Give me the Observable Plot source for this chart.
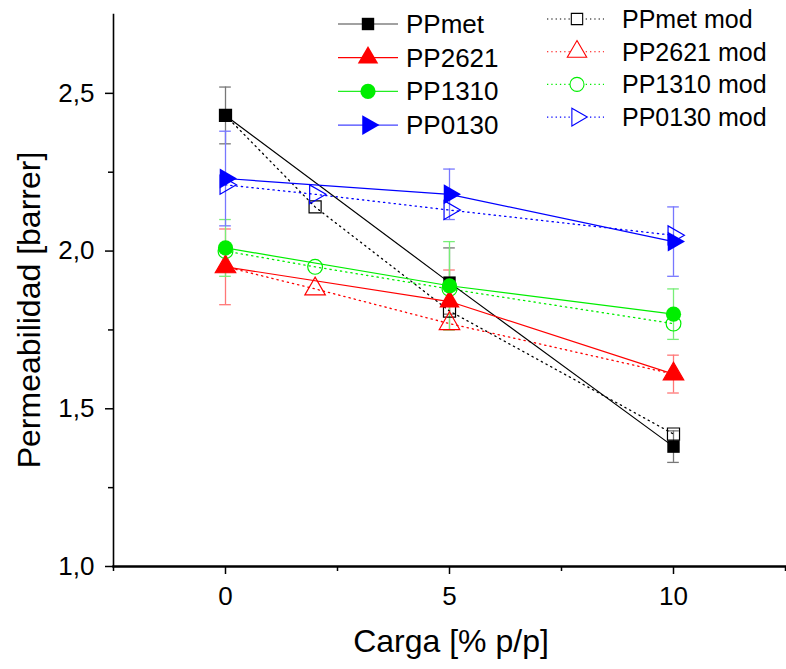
<!DOCTYPE html>
<html>
<head>
<meta charset="utf-8">
<script src="https://cdn.jsdelivr.net/npm/d3@7"></script>
<script src="https://cdn.jsdelivr.net/npm/@observablehq/plot@0.6"></script>
<style>
  html, body { margin: 0; padding: 0; background: #fff; }
  #chart { position: relative; width: 786px; height: 669px; }
</style>
</head>
<body>
<div id="chart"></div>
<script>
// ---- data ----
const seriesNames = ["PPmet", "PP2621", "PP1310", "PP0130"];
const modNames = ["PPmet mod", "PP2621 mod", "PP1310 mod", "PP0130 mod"];
const seriesColors = ["#000000", "#ff0000", "#00ee00", "#0000ff"];
const errColors = ["#777777", "#ff7777", "#77ee77", "#7777ff"];

const loadMain = [0, 5, 10];
const ppmet  = [2.43, 1.90, 1.38];
const ppmetLo = [2.34, 1.80, 1.33];
const ppmetHi = [2.52, 2.01, 1.43];
const pp2621 = [1.95, 1.84, 1.61];
const pp2621Lo = [1.83, 1.75, 1.55];
const pp2621Hi = [2.07, 1.94, 1.67];
const pp1310 = [2.01, 1.89, 1.80];
const pp1310Lo = [1.92, 1.75, 1.72];
const pp1310Hi = [2.10, 2.03, 1.88];
const pp0130 = [2.23, 2.18, 2.03];
const pp0130Lo = [2.08, 2.10, 1.92];
const pp0130Hi = [2.38, 2.26, 2.14];

const loadMod = [0, 2, 5, 10];
const ppmetMod  = [2.43, 2.14, 1.81, 1.42];
const pp2621Mod = [1.95, 1.88, 1.77, 1.61];
const pp1310Mod = [2.00, 1.95, 1.88, 1.77];
const pp0130Mod = [2.21, 2.18, 2.13, 2.05];

const yMajorTicks = [1.0, 1.5, 2.0, 2.5];
const yMinorTicks = [1.25, 1.75, 2.25];
const xMajorTicks = [0, 5, 10];
const xMinorTicks = [-2.5, 2.5, 7.5, 12.5];

const FONT = "'Liberation Sans', Arial, Helvetica, sans-serif";

// ---- symbols ----
const triRight = {
  draw(ctx, size) {
    const s = Math.sqrt(4 * size / Math.sqrt(3));
    const h = Math.sqrt(3) / 2 * s;
    ctx.moveTo(2 * h / 3, 0);
    ctx.lineTo(-h / 3, -s / 2);
    ctx.lineTo(-h / 3, s / 2);
    ctx.closePath();
  }
};
const triUp = {
  draw(ctx, size) {
    const s = Math.sqrt(4 * size / Math.sqrt(3));
    const h = Math.sqrt(3) / 2 * s;
    ctx.moveTo(0, -2 * h / 3);
    ctx.lineTo(s / 2, h / 3);
    ctx.lineTo(-s / 2, h / 3);
    ctx.closePath();
  }
};
const squareSym = {
  draw(ctx, size) {
    const w = Math.sqrt(size);
    ctx.rect(-w / 2, -w / 2, w, w);
  }
};
const circleSym = {
  draw(ctx, size) {
    const r = Math.sqrt(size / Math.PI);
    ctx.moveTo(r, 0);
    ctx.arc(0, 0, r, 0, 2 * Math.PI);
  }
};
const symbols = [squareSym, triUp, circleSym, triRight];
const sizesFilled = [7, 7.6, 7.6, 7.4];
const sizesOpen = [6.8, 7.6, 7.4, 7.0];

// ---- tables ----
const mainVals = [ppmet, pp2621, pp1310, pp0130];
const mainLo = [ppmetLo, pp2621Lo, pp1310Lo, pp0130Lo];
const mainHi = [ppmetHi, pp2621Hi, pp1310Hi, pp0130Hi];
const modVals = [ppmetMod, pp2621Mod, pp1310Mod, pp0130Mod];

const mainData = seriesNames.map((name, i) =>
  loadMain.map((x, j) => ({ s: i, x, y: mainVals[i][j], lo: mainLo[i][j], hi: mainHi[i][j] })));
const modData = modNames.map((name, i) =>
  loadMod.map((x, j) => ({ s: i, x, y: modVals[i][j] })));

const capHalf = 0.13;
const marks = [];

// error bars
mainData.forEach((d, i) => {
  marks.push(Plot.ruleX(d, { x: "x", y1: "lo", y2: "hi", stroke: errColors[i], strokeWidth: 1.3 }));
  marks.push(Plot.ruleY(d, { y: "hi", x1: r => r.x - capHalf, x2: r => r.x + capHalf, stroke: errColors[i], strokeWidth: 1.3 }));
  marks.push(Plot.ruleY(d, { y: "lo", x1: r => r.x - capHalf, x2: r => r.x + capHalf, stroke: errColors[i], strokeWidth: 1.3 }));
});
// modelled dotted lines + open markers
modData.forEach((d, i) => {
  marks.push(Plot.line(d, { x: "x", y: "y", stroke: seriesColors[i], strokeWidth: 1.3, strokeDasharray: "1.3,4" }));
  marks.push(Plot.dot(d, { x: "x", y: "y", symbol: symbols[i], r: sizesOpen[i], stroke: seriesColors[i], fill: "none", strokeWidth: 1.2 }));
});
// main solid lines + filled markers
mainData.forEach((d, i) => {
  marks.push(Plot.line(d, { x: "x", y: "y", stroke: seriesColors[i], strokeWidth: 1.2 }));
  marks.push(Plot.dot(d, { x: "x", y: "y", symbol: symbols[i], r: sizesFilled[i], fill: seriesColors[i], stroke: "none" }));
});

const fmt = d => d.toFixed(1).replace(".", ",");

const plot = Plot.plot({
  width: 786,
  height: 669,
  marginLeft: 113,
  marginRight: 1,
  marginTop: 14,
  marginBottom: 103,
  style: { fontFamily: FONT, fontSize: "26px", background: "#fff", color: "#000" },
  x: { domain: [-2.5, 12.5] },
  y: { domain: [1.0, 2.75] },
  marks: [
    Plot.axisY({ ticks: yMajorTicks, tickFormat: fmt, tickSize: 8, tickPadding: 11, fontSize: 26, label: null, strokeWidth: 1.5 }),
    Plot.axisY({ ticks: yMinorTicks, tickSize: 5, text: null, label: null, strokeWidth: 1.5 }),
    Plot.axisX({ ticks: xMajorTicks, tickSize: 8, tickPadding: 12, fontSize: 26, label: null, strokeWidth: 1.5 }),
    Plot.axisX({ ticks: xMinorTicks, tickSize: 5, text: null, label: null, strokeWidth: 1.5 }),
    Plot.frame({ anchor: "left", strokeWidth: 1.6 }),
    Plot.frame({ anchor: "bottom", strokeWidth: 2.4 }),
    ...marks
  ]
});
document.getElementById("chart").appendChild(plot);

// ---- axis titles & legend (drawn into the same SVG) ----
const svg = d3.select(plot.tagName.toLowerCase() === "svg" ? plot : plot.querySelector("svg"));
svg.selectAll('g[aria-label$="tick label"]')
  .attr("font-size", 26).style("font-size", "26px").attr("font-family", FONT);

svg.append("text")
  .attr("x", 451).attr("y", 652)
  .attr("text-anchor", "middle")
  .attr("font-size", 32)
  .attr("font-family", FONT)
  .text("Carga [% p/p]");
svg.append("text")
  .attr("transform", "translate(40,310) rotate(-90)")
  .attr("text-anchor", "middle")
  .attr("font-size", 32)
  .attr("font-family", FONT)
  .text("Permeabilidad [barrer]");

const leg = svg.append("g").attr("font-family", FONT).attr("text-anchor", "start");
const symPath = (sym, r) => d3.symbol(sym, Math.PI * r * r)();
const legLineColors = ["#444444", "#ff0000", "#22ee22", "#4444ff"];
seriesNames.forEach((name, i) => {
  const y = 24 + i * 33.7;
  const g = leg.append("g");
  g.append("line").attr("x1", 338).attr("x2", 398).attr("y1", y).attr("y2", y)
    .attr("stroke", legLineColors[i]).attr("stroke-width", 1.2);
  g.append("path").attr("d", symPath(symbols[i], sizesFilled[i]))
    .attr("transform", `translate(368,${y})`).attr("fill", seriesColors[i]);
  g.append("text").attr("x", 406).attr("y", y + 9).attr("font-size", 26).attr("text-anchor", "start").text(name);
});
modNames.forEach((name, i) => {
  const y = 19 + i * 32.7;
  const g = leg.append("g");
  g.append("line").attr("x1", 547).attr("x2", 604).attr("y1", y).attr("y2", y)
    .attr("stroke", seriesColors[i]).attr("stroke-width", 1.1).attr("stroke-dasharray", "1.3,3");
  g.append("path").attr("d", symPath(symbols[i], sizesOpen[i] - 0.4))
    .attr("transform", `translate(577,${y})`).attr("fill", "#fff")
    .attr("stroke", seriesColors[i]).attr("stroke-width", 1.1);
  g.append("text").attr("x", 622).attr("y", y + 9).attr("font-size", 25).attr("text-anchor", "start").text(name);
});
</script>
</body>
</html>
